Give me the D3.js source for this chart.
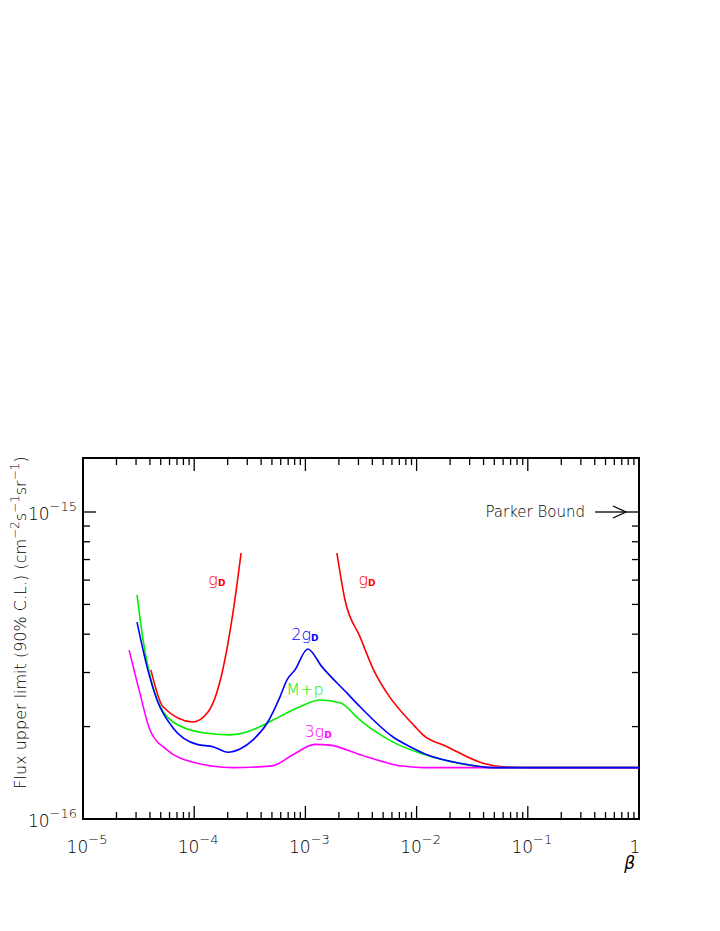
<!DOCTYPE html>
<html><head><meta charset="utf-8">
<script src="https://cdn.jsdelivr.net/npm/d3@7"></script>
<style>body{margin:0;background:#fff}text{font-family:"DejaVu Sans",Arial,sans-serif;font-weight:200}</style>
</head><body><div id="chart"></div>
<script>
// flux values in units of 1e-16 cm^-2 s^-1 sr^-1
const redLowBeta = [4.08e-5,5.24e-5,9.75e-5,1.33e-4,1.78e-4,2.23e-4,2.64e-4];
const redLowFlux = [3.06,2.32,2.07,2.23,2.99,4.69,7.35];
const redHighBeta = [1.92e-3,2.27e-3,3.10e-3,4.23e-3,5.42e-3,9.68e-3,1.14e-2,1.88e-2,3.95e-2,5.98e-2,0.111,1];
const redHighFlux = [7.35,5.17,3.92,2.99,2.57,2.0,1.88,1.72,1.52,1.48,1.47,1.47];
const blueBeta = [3.06e-5,3.77e-5,4.63e-5,6.45e-5,1.06e-4,1.48e-4,2.01e-4,2.58e-4,3.38e-4,4.52e-4,5.91e-4,6.83e-4,8.06e-4,1.05e-3,1.41e-3,2.37e-3,3.10e-3,6.14e-3,8.73e-3,1.24e-2,2.45e-2,4.86e-2,1];
const blueFlux = [4.38,3.13,2.44,1.98,1.75,1.72,1.65,1.69,1.81,2.05,2.50,2.84,3.06,3.58,3.13,2.57,2.32,1.85,1.72,1.62,1.52,1.47,1.47];
const greenBeta = [3.06e-5,3.47e-5,4.26e-5,6.45e-5,1.20e-4,2.10e-4,2.98e-4,3.91e-4,5.11e-4,8.94e-4,1.35e-3,2.05e-3,3.10e-3,4.05e-3,6.14e-3,1.07e-2,1.73e-2,4.86e-2,1];
const greenFlux = [5.37,3.83,2.69,2.07,1.91,1.88,1.92,2.0,2.10,2.32,2.44,2.39,2.10,1.95,1.78,1.64,1.56,1.47,1.47];
const magentaBeta = [2.60e-5,3.25e-5,4.00e-5,5.69e-5,9.75e-5,2.23e-4,5.01e-4,7.73e-4,1.22e-3,1.66e-3,3.10e-3,7.10e-3,1.14e-2,1];
const magentaFlux = [3.55,2.57,1.95,1.68,1.53,1.47,1.49,1.62,1.75,1.74,1.62,1.49,1.47,1.47];
const xTickLabels = ["10|-5","10|-4","10|-3","10|-2","10|-1","1|"];
const series = [
  {beta: redLowBeta, flux: redLowFlux, color: "#ff0000"},
  {beta: redHighBeta, flux: redHighFlux, color: "#ff0000"},
  {beta: greenBeta, flux: greenFlux, color: "#00ee00"},
  {beta: magentaBeta, flux: magentaFlux, color: "#ff00ff"},
  {beta: blueBeta, flux: blueFlux, color: "#0000ff"}
];
const labels = [
  {t: "g", s: "D", beta: 1.6e-4, flux: 5.78, color: "#ff0000"},
  {t: "g", s: "D", beta: 3.58e-3, flux: 5.78, color: "#ff0000"},
  {t: "2g", s: "D", beta: 9.9e-4, flux: 3.83, color: "#0000ff"},
  {t: "M+p", s: "", beta: 9.9e-4, flux: 2.53, color: "#00ee00"},
  {t: "3g", s: "D", beta: 1.3e-3, flux: 1.85, color: "#ff00ff"}
];

const W = 720, H = 931;
const m = {left: 83, right: 81, top: 458, bottom: 112};
const svg = d3.select("#chart").append("svg").attr("width", W).attr("height", H);
const x = d3.scaleLog().domain([1e-5, 1]).range([m.left, W - m.right]);
const y = d3.scaleLog().domain([1, 10 * Math.pow(10, 54 / 307)]).range([H - m.bottom, m.top]);

const x0 = m.left, x1 = W - m.right, y0 = H - m.bottom, y1 = m.top;
const g = svg.append("g").attr("stroke", "#000").attr("stroke-width", 1.3);

// x ticks, bottom and top
for (let e = -5; e <= 0; e++) {
  for (let k = 1; k <= 9; k++) {
    const v = k * Math.pow(10, e);
    if (v > 1) break;
    const px = x(v), len = k === 1 ? 13 : 7;
    g.append("line").attr("x1", px).attr("x2", px).attr("y1", y0).attr("y2", y0 - len);
    g.append("line").attr("x1", px).attr("x2", px).attr("y1", y1).attr("y2", y1 + len);
  }
}
// y ticks, left and right
for (let k = 2; k <= 10; k++) {
  const py = y(k), len = k === 10 ? 13 : 7;
  g.append("line").attr("x1", x0).attr("x2", x0 + len).attr("y1", py).attr("y2", py);
  g.append("line").attr("x1", x1).attr("x2", x1 - len).attr("y1", py).attr("y2", py);
}
svg.append("rect").attr("x", x0).attr("y", y1).attr("width", x1 - x0).attr("height", y0 - y1)
  .attr("fill", "none").attr("stroke", "#000").attr("stroke-width", 2);

function powLabel(sel, base, exp, px, py, anchor) {
  const t = sel.append("text").attr("x", px).attr("y", py).attr("font-size", 17).attr("text-anchor", anchor);
  t.append("tspan").text(base);
  if (exp) t.append("tspan").attr("dy", -9).attr("font-size", 13).text(exp.replace("-", "\u2212"));
  return t;
}
[1e-5, 1e-4, 1e-3, 1e-2, 1e-1, 1].forEach((v, i) => {
  const [b, e] = xTickLabels[i].split("|");
  powLabel(svg, b, e, x(v) + (e ? 4 : -4), y0 + 34, "middle");
});
powLabel(svg, "10", "-15", x0 - 6, y(10) + 8, "end");
powLabel(svg, "10", "-16", x0 - 6, y(1) + 8, "end");

svg.append("text").attr("x", x1 - 4).attr("y", y0 + 50).attr("font-size", 17)
  .attr("font-style", "italic").attr("font-weight", "bold").attr("text-anchor", "end").text("β");

const yt = svg.append("text").attr("transform", `translate(26,${(y0 + y1) / 2 - 16}) rotate(-90)`)
  .attr("text-anchor", "middle").attr("font-size", 16);
yt.append("tspan").text("Flux upper limit (90% C.L.)  (cm");
yt.append("tspan").attr("dy", -7).attr("font-size", 12).text("−2");
yt.append("tspan").attr("dy", 7).text("s");
yt.append("tspan").attr("dy", -7).attr("font-size", 12).text("−1");
yt.append("tspan").attr("dy", 7).text("sr");
yt.append("tspan").attr("dy", -7).attr("font-size", 12).text("−1");
yt.append("tspan").attr("dy", 7).text(")");

// Parker bound
svg.append("text").attr("x", 585).attr("y", y(10) + 5).attr("font-size", 15)
  .attr("text-anchor", "end").text("Parker Bound");
const arr = svg.append("g").attr("stroke", "#000").attr("stroke-width", 1.3).attr("fill", "none");
arr.append("line").attr("x1", 595).attr("x2", 625).attr("y1", y(10)).attr("y2", y(10));
arr.append("path").attr("d", `M613,${y(10) - 6}L626,${y(10)}L613,${y(10) + 6}`);

const line = d3.line().x(d => x(d[0])).y(d => y(d[1])).curve(d3.curveMonotoneX);
series.forEach(s => {
  svg.append("path").attr("d", line(s.beta.map((b, i) => [b, s.flux[i]])))
    .attr("fill", "none").attr("stroke", s.color).attr("stroke-width", 1.6);
});
labels.forEach(l => {
  const t = svg.append("text").attr("x", x(l.beta)).attr("y", y(l.flux)).attr("fill", l.color)
    .attr("font-size", 16).attr("text-anchor", "middle");
  t.append("tspan").text(l.t);
  if (l.s) t.append("tspan").attr("font-size", 9).attr("font-weight", "bold").attr("dy", 1).text(l.s);
});
</script></body></html>
